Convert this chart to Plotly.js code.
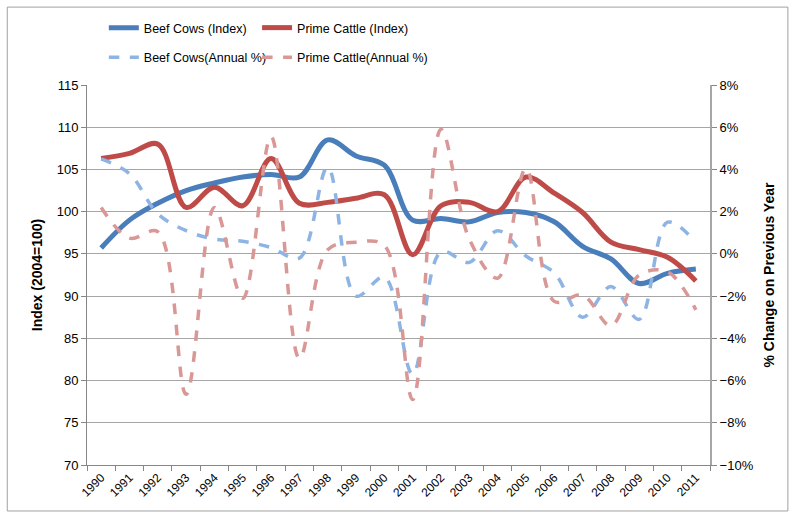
<!DOCTYPE html>
<html>
<head>
<meta charset="utf-8">
<script src="https://cdn.plot.ly/plotly-3.0.1.min.js"></script>
<style>html,body{margin:0;padding:0;background:#fff;}#chart{width:790px;height:513px;}</style>
</head>
<body>
<div id="chart"></div>
<script>
var years = ["1990","1991","1992","1993","1994","1995","1996","1997","1998","1999","2000","2001","2002","2003","2004","2005","2006","2007","2008","2009","2010","2011"];
var beefCowsIndex = [95.7,99.0,101.0,102.5,103.4,104.1,104.4,104.1,108.5,106.6,105.5,99.0,99.2,98.8,99.9,99.9,98.8,95.9,94.4,91.5,92.7,93.2];
var primeCattleIndex = [106.3,106.9,108.0,100.5,102.9,100.7,106.3,101.0,101.1,101.6,102.0,94.9,100.7,101.1,100.0,104.1,102.2,99.9,96.4,95.5,94.6,91.8];
var beefCowsPct = [4.5,3.8,1.9,1.1,0.7,0.6,0.3,-0.2,4.1,-2.0,-1.1,-5.7,0.1,-0.4,1.1,-0.1,-0.9,-3.0,-1.55,-3.1,1.5,0.55];
var primeCattlePct = [2.2,0.75,1.05,-6.65,2.2,-2.1,5.55,-4.95,0.2,0.55,0.4,-6.9,5.9,0.7,-1.15,4.05,-2.25,-1.95,-3.4,-1.0,-0.85,-2.65];

var fontFam = "'Liberation Sans',Arial,sans-serif";
var names = ["Beef Cows (Index)", "Prime Cattle (Index)", "Beef Cows(Annual %)", "Prime Cattle(Annual %)"];
var traces = [
  {x: years, y: beefCowsIndex, name: names[0], type: "scatter", mode: "lines",
   line: {color: "#4a7ebb", width: 5, shape: "spline", smoothing: 1}, legend: "legend"},
  {x: years, y: primeCattleIndex, name: names[1], type: "scatter", mode: "lines",
   line: {color: "#be4b48", width: 5, shape: "spline", smoothing: 1}, legend: "legend2"},
  {x: years, y: beefCowsPct, name: names[2], type: "scatter", mode: "lines", yaxis: "y2",
   line: {color: "#8eb4e3", width: 3.5, dash: "dash", shape: "spline", smoothing: 1}, legend: "legend3"},
  {x: years, y: primeCattlePct, name: names[3], type: "scatter", mode: "lines", yaxis: "y2",
   line: {color: "#d99795", width: 3.5, dash: "dash", shape: "spline", smoothing: 1}, legend: "legend4"}
];

function leg(x, y) {
  return {orientation: "h", x: x, xanchor: "left", y: y, yanchor: "middle",
    font: {family: fontFam, size: 12.5, color: "#000"}, bgcolor: "rgba(0,0,0,0)"};
}

var layout = {
  width: 790, height: 513,
  margin: {l: 87, r: 80, t: 85, b: 48},
  paper_bgcolor: "#fff", plot_bgcolor: "#fff",
  font: {family: fontFam, color: "#000", size: 13},
  showlegend: true,
  legend: leg(0.027, 1.15),
  legend2: leg(0.273, 1.15),
  legend3: leg(0.027, 1.072),
  legend4: leg(0.273, 1.072),
  xaxis: {type: "category", range: [-0.5, 21.5], tickangle: -45, showgrid: false, showline: true, linecolor: "#868686", linewidth: 1,
    ticks: "outside", tickson: "boundaries", ticklen: 5, tickcolor: "#868686",
    tickfont: {family: fontFam, size: 12, color: "#000"}, zeroline: false, fixedrange: true},
  yaxis: {range: [70, 115], dtick: 5, tick0: 70, showgrid: true, gridcolor: "#a6a6a6", gridwidth: 1,
    showline: true, linecolor: "#868686", ticks: "outside", ticklen: 5, tickcolor: "#868686",
    tickfont: {family: fontFam, size: 13, color: "#000"}, zeroline: false,
    title: {text: "<b>Index (2004=100)</b>", font: {family: fontFam, size: 14, color: "#000"}, standoff: 10}},
  yaxis2: {overlaying: "y", side: "right", range: [-10, 8], dtick: 2, tick0: -10, ticksuffix: "%",
    showgrid: false, showline: true, linecolor: "#a6a6a6", linewidth: 2, ticks: "outside", ticklen: 5, tickcolor: "#868686",
    tickfont: {family: fontFam, size: 13, color: "#000"}, zeroline: false,
    title: {text: "<b>% Change on Previous Year</b>", font: {family: fontFam, size: 14, color: "#000"}, standoff: 12}},
  shapes: [{type: "rect", xref: "paper", yref: "paper", x0: -0.128, x1: 1.125, y0: -0.121, y1: 1.205,
    line: {color: "#a0a0a0", width: 1}, fillcolor: "rgba(0,0,0,0)", layer: "below"}]
};

Plotly.newPlot("chart", traces, layout, {displayModeBar: false, staticPlot: true});
</script>
</body>
</html>
